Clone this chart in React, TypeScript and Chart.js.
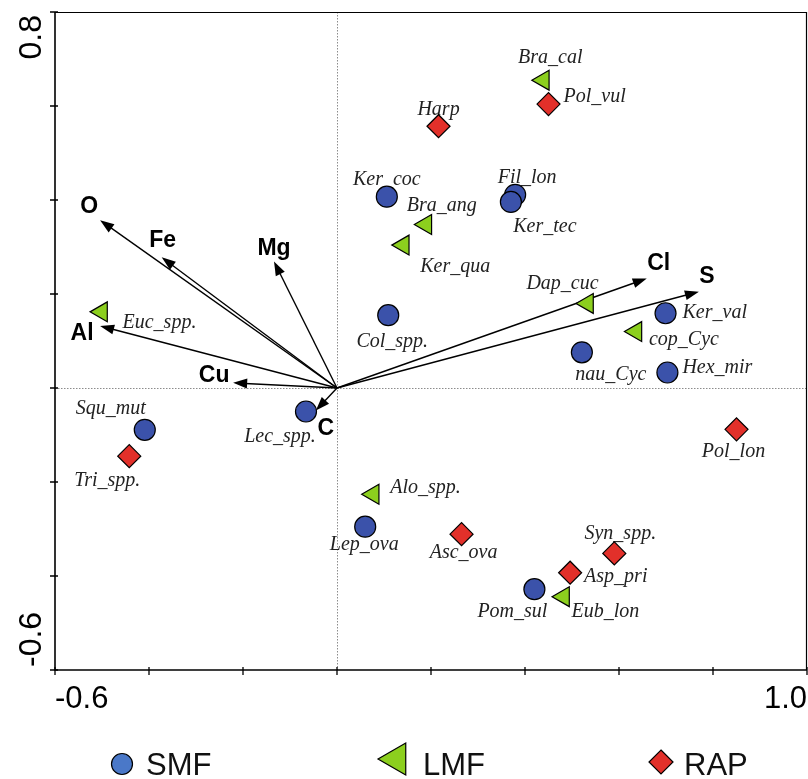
import React, { useEffect, useRef } from 'react';
import { Chart, registerables } from 'chart.js';

Chart.register(...registerables);

// ---- data ----
const smfNames = ['Ker_coc', 'Fil_lon', 'Ker_tec', 'Col_spp.', 'Ker_val', 'nau_Cyc', 'Hex_mir', 'Lec_spp.', 'Squ_mut', 'Lep_ova', 'Pom_sul'];
const smfX = [0.106, 0.379, 0.370, 0.109, 0.699, 0.521, 0.703, -0.066, -0.409, 0.060, 0.420];
const smfY = [0.407, 0.411, 0.396, 0.155, 0.159, 0.076, 0.033, -0.050, -0.089, -0.295, -0.428];

const lmfNames = ['Bra_cal', 'Bra_ang', 'Ker_qua', 'Euc_spp.', 'Dap_cuc', 'cop_Cyc', 'Alo_spp.', 'Eub_lon'];
const lmfX = [0.439, 0.189, 0.141, -0.501, 0.533, 0.636, 0.077, 0.482];
const lmfY = [0.655, 0.348, 0.304, 0.162, 0.180, 0.120, -0.226, -0.444];

const rapNames = ['Harp', 'Pol_vul', 'Tri_spp.', 'Pol_lon', 'Asc_ova', 'Syn_spp.', 'Asp_pri'];
const rapX = [0.216, 0.450, -0.442, 0.850, 0.265, 0.590, 0.496];
const rapY = [0.557, 0.604, -0.145, -0.088, -0.311, -0.352, -0.393];

const envNames = ['O', 'Fe', 'Mg', 'Al', 'Cu', 'C', 'Cl', 'S'];
const envX = [-0.504, -0.373, -0.134, -0.504, -0.221, -0.045, 0.659, 0.770];
const envY = [0.357, 0.278, 0.269, 0.132, 0.011, -0.048, 0.233, 0.205];

const xTickLabels = ['-0.6', '1.0'];
const yTickLabels = ['0.8', '-0.6'];
const legendLabels = ['SMF', 'LMF', 'RAP'];

// ---- styling / placement (not data) ----
const colors = {
  smf: '#3b52aa',
  lmf: '#8ccf1e',
  rap: '#e2302a',
  smfLegend: '#4a78c8',
};

// species label offsets from marker centre: [dx, dyBaseline, align]
const speciesLabelPos: Record<string, [number, number, CanvasTextAlign]> = {
  'Ker_coc': [0, -12, 'center'],
  'Fil_lon': [12, -12, 'center'],
  'Ker_tec': [34, 30, 'center'],
  'Col_spp.': [4, 32, 'center'],
  'Ker_val': [17, 5, 'left'],
  'nau_Cyc': [29, 28, 'center'],
  'Hex_mir': [15, 1, 'left'],
  'Lec_spp.': [-26, 30, 'center'],
  'Squ_mut': [-34, -16, 'center'],
  'Lep_ova': [-1, 23, 'center'],
  'Pom_sul': [-22, 28, 'center'],
  'Bra_cal': [7, -17, 'center'],
  'Bra_ang': [16, -13, 'center'],
  'Ker_qua': [52, 27, 'center'],
  'Euc_spp.': [21, 16, 'left'],
  'Dap_cuc': [-25, -14, 'center'],
  'cop_Cyc': [13, 13, 'left'],
  'Alo_spp.': [17, -1, 'left'],
  'Eub_lon': [8, 20, 'left'],
  'Harp': [0, -11, 'center'],
  'Pol_vul': [15, -2, 'left'],
  'Tri_spp.': [-22, 30, 'center'],
  'Pol_lon': [-3, 28, 'center'],
  'Asc_ova': [2, 24, 'center'],
  'Syn_spp.': [6, -14, 'center'],
  'Asp_pri': [14, 9, 'left'],
};

// env label offsets from arrow tip: [dx (centre), dyBaseline]
const envLabelPos: Record<string, [number, number]> = {
  O: [-11, -7],
  Fe: [1, -10],
  Mg: [0, -7],
  Al: [-18, 14],
  Cu: [-19, -1],
  C: [10, 24],
  Cl: [12, -8],
  S: [8, -9],
};

const toPoints = (xs: number[], ys: number[]) => xs.map((v, i) => ({ x: v, y: ys[i] }));

const overlayPlugin = {
  id: 'overlay',
  beforeDatasetsDraw(chart: any) {
    const { ctx, chartArea: a, scales } = chart;
    const xs = scales.x;
    const ys = scales.y;
    const x0 = xs.getPixelForValue(0);
    const y0 = ys.getPixelForValue(0);
    ctx.save();

    // dotted zero lines
    ctx.strokeStyle = '#8c8c8c';
    ctx.lineWidth = 1;
    ctx.setLineDash([1.5, 1.5]);
    ctx.beginPath();
    ctx.moveTo(Math.round(x0) + 0.5, a.top);
    ctx.lineTo(Math.round(x0) + 0.5, a.bottom);
    ctx.moveTo(a.left, Math.round(y0) + 0.5);
    ctx.lineTo(a.right, Math.round(y0) + 0.5);
    ctx.stroke();
    ctx.setLineDash([]);

    // frame
    ctx.strokeStyle = '#000';
    ctx.lineWidth = 1.2;
    ctx.beginPath();
    ctx.moveTo(a.left, a.top + 0.5);
    ctx.lineTo(a.right, a.top + 0.5);
    ctx.moveTo(a.right - 0.5, a.top);
    ctx.lineTo(a.right - 0.5, a.bottom);
    ctx.stroke();
    ctx.lineWidth = 1.6;
    ctx.beginPath();
    ctx.moveTo(a.left, a.top);
    ctx.lineTo(a.left, a.bottom);
    ctx.lineTo(a.right, a.bottom);
    ctx.stroke();

    // ticks
    ctx.lineWidth = 1.3;
    ctx.beginPath();
    for (let i = 0; i <= 8; i++) {
      const px = xs.getPixelForValue(xs.min + i * 0.2);
      ctx.moveTo(px, a.bottom - 3);
      ctx.lineTo(px, a.bottom + 5);
    }
    for (let i = 0; i <= 7; i++) {
      const py = ys.getPixelForValue(ys.min + i * 0.2);
      ctx.moveTo(a.left - 5, py);
      ctx.lineTo(a.left + 3, py);
    }
    ctx.stroke();

    // axis labels
    ctx.fillStyle = '#000';
    ctx.font = '31px "Liberation Sans", Arial, sans-serif';
    ctx.textBaseline = 'alphabetic';
    ctx.textAlign = 'left';
    ctx.fillText(xTickLabels[0], xs.getPixelForValue(xs.min), a.bottom + 38);
    ctx.textAlign = 'right';
    ctx.fillText(xTickLabels[1], xs.getPixelForValue(xs.max), a.bottom + 38);

    ctx.font = '32px "Liberation Sans", Arial, sans-serif';
    ctx.save();
    ctx.translate(a.left - 14, ys.getPixelForValue(ys.max) + 3);
    ctx.rotate(-Math.PI / 2);
    ctx.textAlign = 'right';
    ctx.fillText(yTickLabels[0], 0, 0);
    ctx.restore();
    ctx.save();
    ctx.translate(a.left - 14, ys.getPixelForValue(ys.min) - 3);
    ctx.rotate(-Math.PI / 2);
    ctx.textAlign = 'left';
    ctx.fillText(yTickLabels[1], 0, 0);
    ctx.restore();

    // species labels (under markers)
    ctx.font = 'italic 20px "Liberation Serif", "Times New Roman", serif';
    ctx.fillStyle = '#222';
    const groups: [string[], number[], number[]][] = [
      [smfNames, smfX, smfY],
      [lmfNames, lmfX, lmfY],
      [rapNames, rapX, rapY],
    ];
    groups.forEach(([names, gx, gy]) => {
      names.forEach((n, i) => {
        const p = speciesLabelPos[n] || [0, -12, 'center'];
        ctx.textAlign = p[2];
        ctx.fillText(n, xs.getPixelForValue(gx[i]) + p[0], ys.getPixelForValue(gy[i]) + p[1]);
      });
    });

    // environmental arrows
    ctx.strokeStyle = '#000';
    ctx.fillStyle = '#000';
    ctx.lineWidth = 1.4;
    envNames.forEach((n, i) => {
      const tx = xs.getPixelForValue(envX[i]);
      const ty = ys.getPixelForValue(envY[i]);
      const dx = tx - x0;
      const dy = ty - y0;
      const len = Math.hypot(dx, dy);
      const ux = dx / len;
      const uy = dy / len;
      const hl = 14;
      const hw = 5;
      const bx = tx - ux * hl;
      const by = ty - uy * hl;
      ctx.beginPath();
      ctx.moveTo(x0, y0);
      ctx.lineTo(bx + ux * 2, by + uy * 2);
      ctx.stroke();
      ctx.beginPath();
      ctx.moveTo(tx, ty);
      ctx.lineTo(bx - uy * hw, by + ux * hw);
      ctx.lineTo(bx + uy * hw, by - ux * hw);
      ctx.closePath();
      ctx.fill();
    });
    ctx.font = 'bold 23px "Liberation Sans", Arial, sans-serif';
    ctx.textAlign = 'center';
    envNames.forEach((n, i) => {
      const tx = xs.getPixelForValue(envX[i]);
      const ty = ys.getPixelForValue(envY[i]);
      const p = envLabelPos[n] || [0, -8];
      ctx.fillText(n, tx + p[0], ty + p[1]);
    });

    ctx.restore();
  },
  afterDraw(chart: any) {
    const { ctx } = chart;
    ctx.save();
    ctx.strokeStyle = '#000';
    ctx.lineWidth = 1.2;
    // SMF circle
    ctx.fillStyle = colors.smfLegend;
    ctx.beginPath();
    ctx.arc(122, 764, 10.5, 0, Math.PI * 2);
    ctx.fill();
    ctx.stroke();
    // LMF triangle (pointing left)
    const r = 18.5;
    const cx = 396.5;
    const cy = 759;
    ctx.fillStyle = colors.lmf;
    ctx.beginPath();
    ctx.moveTo(cx - r, cy);
    ctx.lineTo(cx + r / 2, cy - r * 0.866);
    ctx.lineTo(cx + r / 2, cy + r * 0.866);
    ctx.closePath();
    ctx.fill();
    ctx.stroke();
    // RAP diamond
    ctx.fillStyle = colors.rap;
    ctx.beginPath();
    ctx.moveTo(661, 750);
    ctx.lineTo(673, 762);
    ctx.lineTo(661, 774);
    ctx.lineTo(649, 762);
    ctx.closePath();
    ctx.fill();
    ctx.stroke();

    ctx.fillStyle = '#111';
    ctx.font = '31px "Liberation Sans", Arial, sans-serif';
    ctx.textAlign = 'left';
    ctx.textBaseline = 'alphabetic';
    ctx.fillText(legendLabels[0], 146, 775);
    ctx.fillText(legendLabels[1], 423, 775);
    ctx.fillText(legendLabels[2], 684, 775);
    ctx.restore();
  },
};

export default function App() {
  const canvasRef = useRef<HTMLCanvasElement | null>(null);

  useEffect(() => {
    if (!canvasRef.current) return;
    const chart = new Chart(canvasRef.current, {
      type: 'scatter',
      data: {
        datasets: [
          {
            label: legendLabels[0],
            data: toPoints(smfX, smfY),
            pointStyle: 'circle',
            pointRadius: 10.5,
            backgroundColor: colors.smf,
            borderColor: '#000',
            borderWidth: 1.2,
            clip: false,
          } as any,
          {
            label: legendLabels[1],
            data: toPoints(lmfX, lmfY),
            pointStyle: 'triangle',
            rotation: -90,
            pointRadius: 11.5,
            backgroundColor: colors.lmf,
            borderColor: '#000',
            borderWidth: 1.2,
            clip: false,
          } as any,
          {
            label: legendLabels[2],
            data: toPoints(rapX, rapY),
            pointStyle: 'rectRot',
            pointRadius: 11.5,
            backgroundColor: colors.rap,
            borderColor: '#000',
            borderWidth: 1.2,
            clip: false,
          } as any,
        ],
      },
      options: {
        animation: false,
        responsive: false,
        events: [],
        layout: { autoPadding: false, padding: { left: 55, top: 12, right: 1, bottom: 109 } },
        plugins: { legend: { display: false }, tooltip: { enabled: false } },
        scales: {
          x: { type: 'linear', min: -0.6, max: 1.0, display: false },
          y: { type: 'linear', min: -0.6, max: 0.8, display: false },
        },
      },
      plugins: [overlayPlugin],
    });
    return () => chart.destroy();
  }, []);

  return (
    <div style={{ position: 'absolute', left: 0, top: 0, width: 808, height: 779, background: '#fff' }}>
      <canvas ref={canvasRef} width={808} height={779} style={{ display: 'block' }} />
    </div>
  );
}
